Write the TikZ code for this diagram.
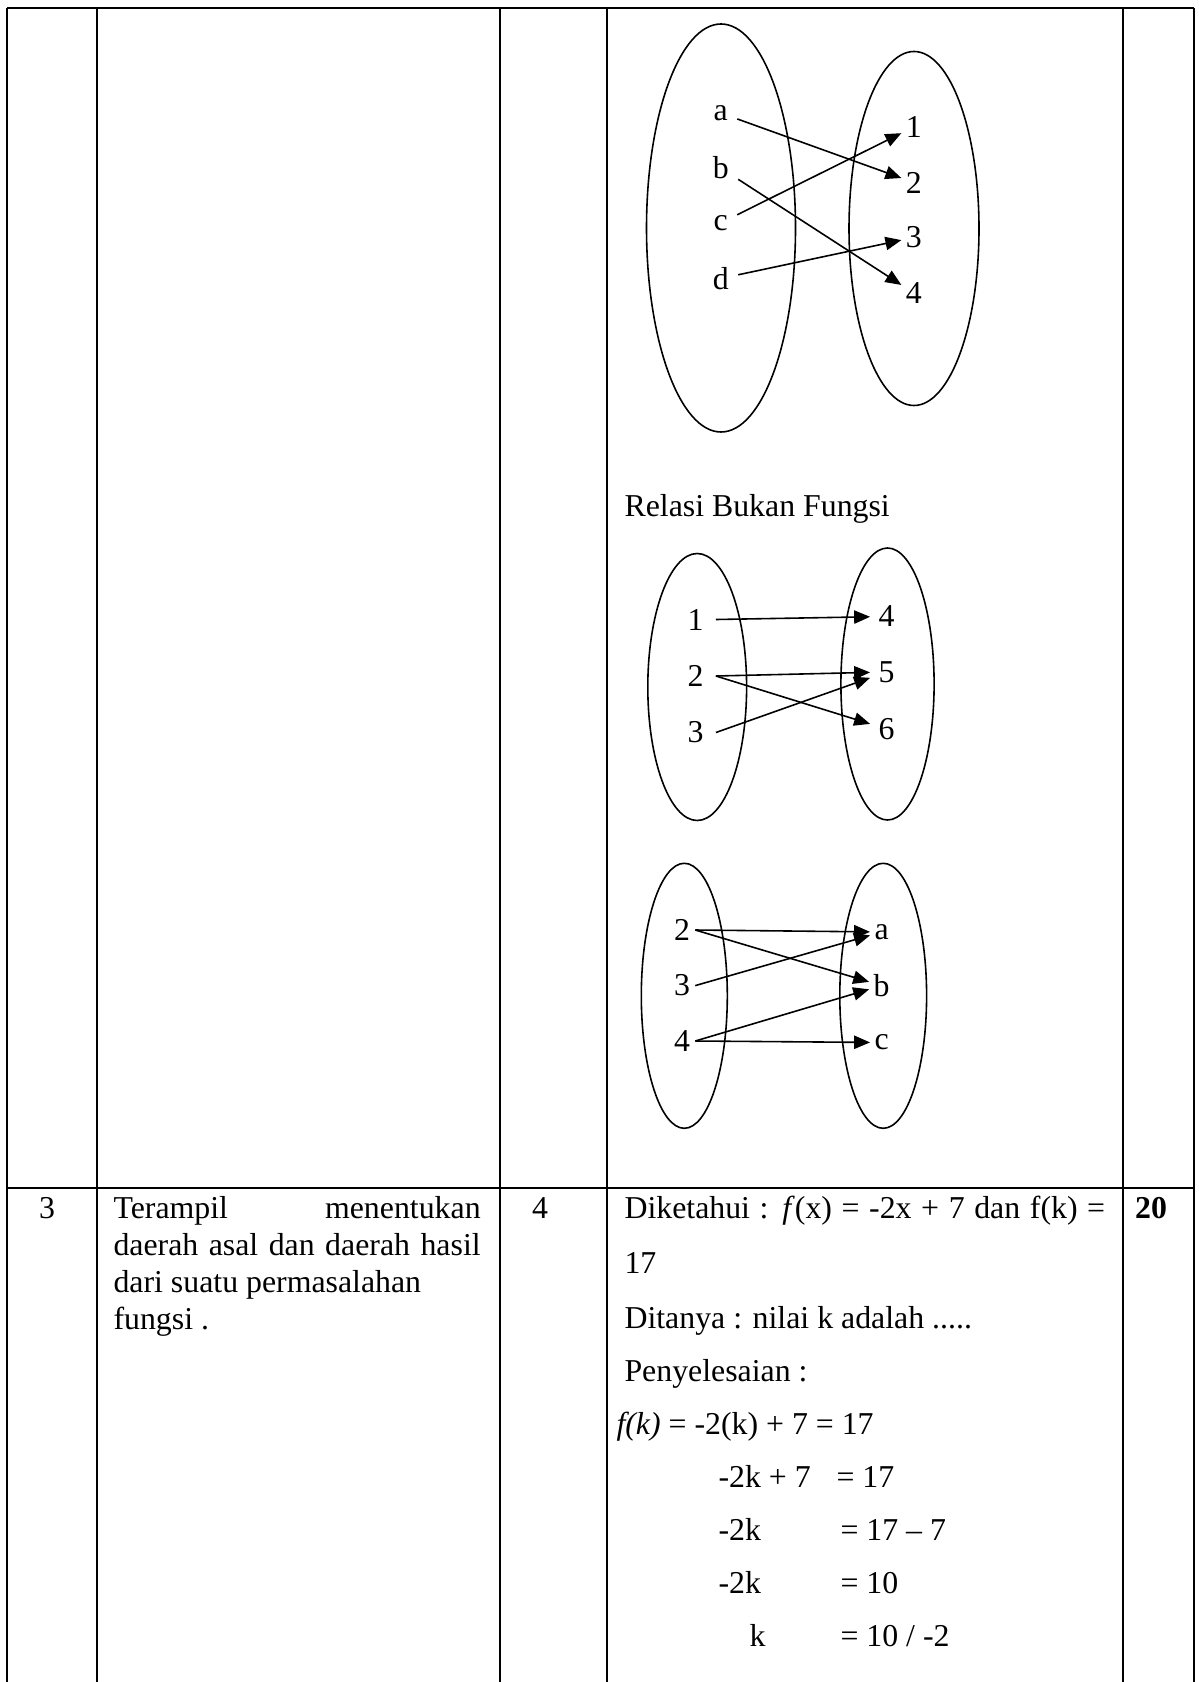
\documentclass[tikz,border=0pt]{standalone}
\usepackage{fontspec}
\setmainfont{Liberation Serif}
\usetikzlibrary{arrows.meta}

\begin{document}
\begin{tikzpicture}[
    x=0.377pt, y=-0.377pt,
    font=\fontsize{12}{14}\selectfont,
    grid/.style={line width=1pt},
    himp/.style={line width=0.6pt},
    lft/.style={inner ysep=0pt, inner xsep=#1},
    rgt/.style={inner ysep=0pt, inner xsep=#1},
    arrow/.style={-{Triangle[length=6pt, width=5pt]}, line width=0.6pt},
    txt/.style={anchor=base west, inner sep=0pt}
]
\fill[white] (0,0) rectangle (1199,1682);
\useasboundingbox (0,0) rectangle (1199,1682);

% tabel
\draw[grid] (7,8) -- (1194,8);
\draw[grid] (7,1188) -- (1194,1188);
\foreach \x in {7,97,500,607,1123,1194}
    \draw[grid] (\x,8) -- (\x,1682);

% relasi fungsi
\draw[himp] (721,228) ellipse [x radius=74.5, y radius=204];
\draw[himp] (914,228.5) ellipse [x radius=65, y radius=177];
\node[lft=3.4pt] (a) at (720.7,113) {a};
\node[lft=3.4pt] (b) at (720.7,168) {b};
\node[lft=3.4pt] (c) at (720.7,223) {c};
\node[lft=3.4pt] (d) at (720.7,278.5) {d};
\node[rgt=1.5pt] (y1) at (913.8,127) {1};
\node[rgt=1.5pt] (y2) at (913.8,182.5) {2};
\node[rgt=1.5pt] (y3) at (913.8,237.5) {3};
\node[rgt=1.5pt] (y4) at (913.8,293) {4};
\draw[arrow] (a) -- (y2);
\draw[arrow] (b) -- (y4);
\draw[arrow] (c) -- (y1);
\draw[arrow] (d) -- (y3);

\node[txt] (judul) at (624,516) {Relasi Bukan Fungsi};

% relasi bukan fungsi (1)
\draw[himp] (697.2,687) ellipse [x radius=49.4, y radius=133.5];
\draw[himp] (887.5,684) ellipse [x radius=46.6, y radius=136];
\node[lft=4.5pt] (p1) at (695.5,619.5) {1};
\node[lft=4.5pt] (p2) at (695.5,676) {2};
\node[lft=4.5pt] (p3) at (695.5,732.5) {3};
\node[rgt=3pt] (q4) at (886.5,616.5) {4};
\node[rgt=3pt] (q5) at (886.5,672) {5};
\node[rgt=3pt] (q6) at (886.5,729) {6};
\draw[arrow] (p1.east) -- (q4);
\draw[arrow] (p2.east) -- (q5);
\draw[arrow] (p2.east) -- (q6);
\draw[arrow] (p3.east) -- (q5);

% relasi bukan fungsi (2)
\draw[himp] (684.3,995.8) ellipse [x radius=43, y radius=132.5];
\draw[himp] (883.2,995.8) ellipse [x radius=43.4, y radius=132.5];
\node[lft=1.8pt] (s2) at (682,930) {2};
\node[lft=1.8pt] (s3) at (682,985.6) {3};
\node[lft=1.8pt] (s4) at (682,1041) {4};
\node[rgt=1.5pt] (ta) at (881.6,932) {a};
\node[rgt=1.5pt] (tb) at (881.6,985.6) {b};
\node[rgt=1.5pt] (tc) at (881.6,1042.5) {c};
\draw[arrow] (s2.east) -- (ta);
\draw[arrow] (s2.east) -- (tb);
\draw[arrow] (s3.east) -- (ta);
\draw[arrow] (s4.east) -- (tb);
\draw[arrow] (s4.east) -- (tc);

% baris 3
\node[anchor=base, inner sep=0pt] (nomor) at (47,1218) {3};
\node[txt] (k1) at (113,1218) {\makebox[138.4pt][s]{Terampil menentukan}};
\node[txt] (k2) at (113,1255) {\makebox[138.4pt][s]{daerah asal dan daerah hasil}};
\node[txt] (k3) at (113,1292) {dari suatu permasalahan};
\node[txt] (k4) at (113,1329) {fungsi .};
\node[anchor=base, inner sep=0pt] (level) at (540,1218) {4};
\node[anchor=base, inner sep=0pt] (skor) at (1151,1218) {\textbf{20}};

\node[txt] (j1) at (624,1218) {\makebox[181.2pt][s]{Diketahui : \textit{f}(x) = -2x + 7 dan f(k) =}};
\node[txt] (j2) at (624,1273) {17};
\node[txt] (j3) at (624,1328) {Ditanya : nilai k adalah .....};
\node[txt] (j4) at (624,1381.5) {Penyelesaian :};
\node[txt] (j5) at (616,1434) {\textit{f(k)} = -2(k) + 7 = 17};
\node[txt] (j6) at (718,1487) {-2k + 7};
\node[txt] (h6) at (836,1487) {= 17};
\node[txt] (j7) at (718,1540) {-2k};
\node[txt] (h7) at (840,1540) {= 17 – 7};
\node[txt] (j8) at (718,1593) {-2k};
\node[txt] (h8) at (840,1593) {= 10};
\node[txt] (j9) at (749,1646) {k};
\node[txt] (h9) at (840,1646) {= 10 / -2};
\end{tikzpicture}
\end{document}
